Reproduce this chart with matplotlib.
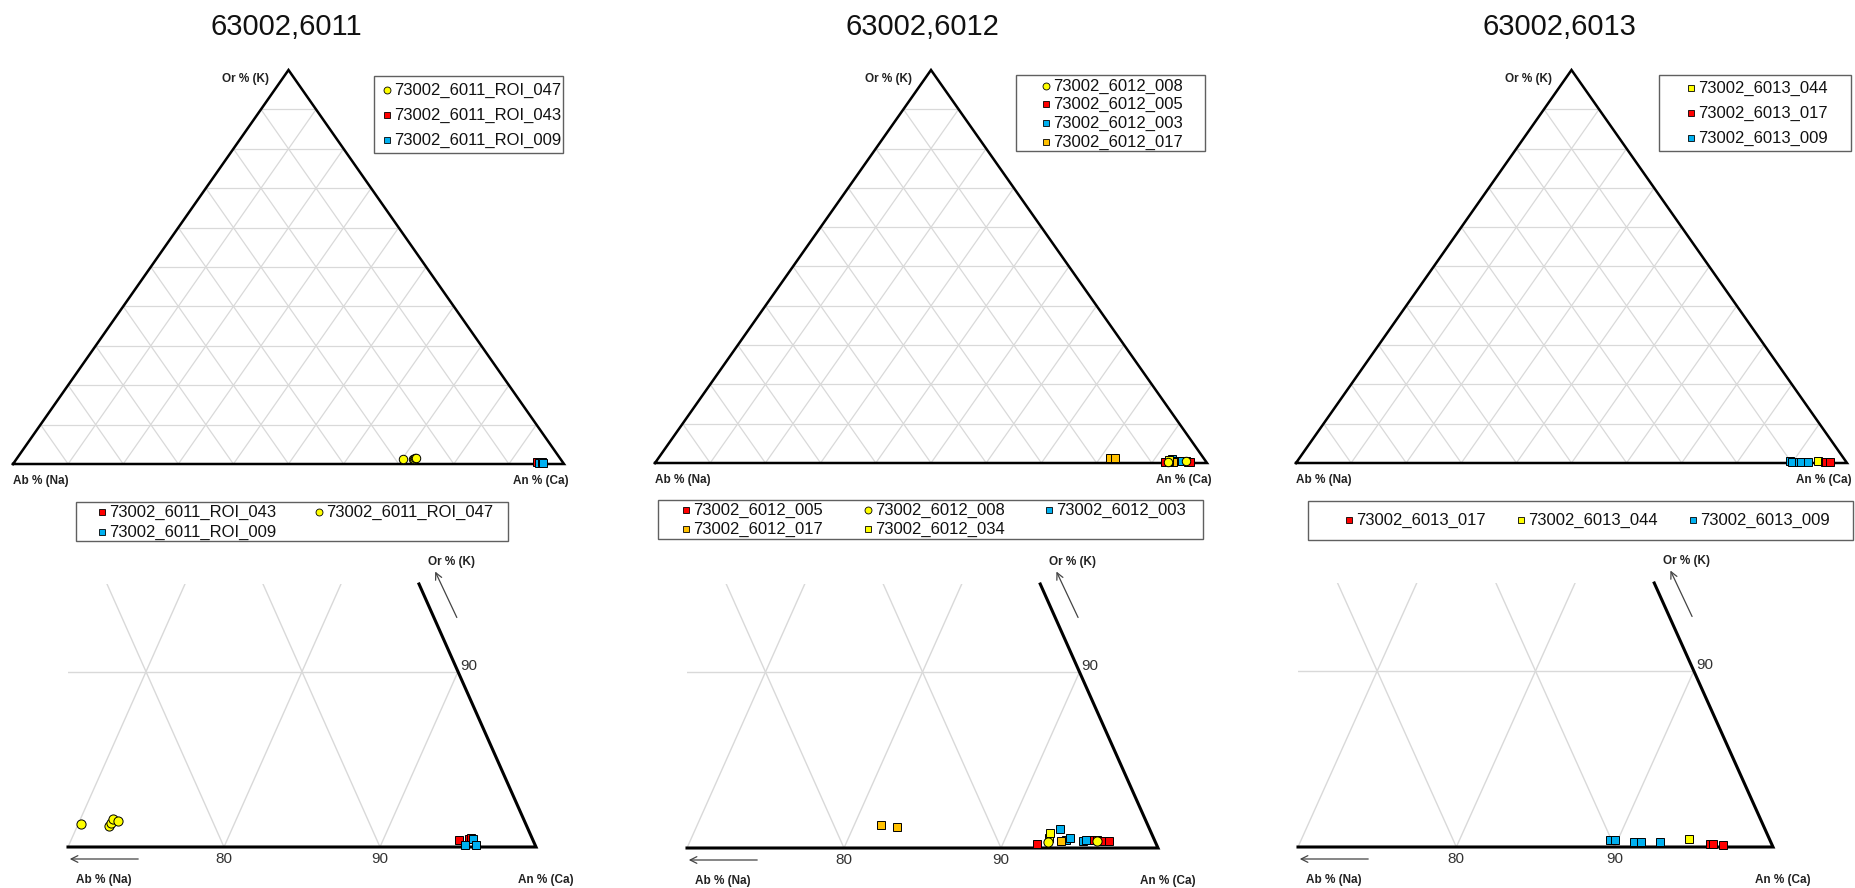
import numpy as np
import matplotlib.pyplot as plt
from matplotlib.lines import Line2D
from matplotlib.patches import Rectangle

plt.rcParams["font.family"] = ["Liberation Sans", "DejaVu Sans"]

W, H = 1856, 888
H3 = np.sqrt(3) / 2

RED = "#ff0000"
YELLOW = "#ffff00"
BLUE = "#00b0f0"
ORANGE = "#ffc000"

titles = ["63002,6011", "63002,6012", "63002,6013"]

# panel 1 (An %, Or %)
p1_names = ["73002_6011_ROI_047", "73002_6011_ROI_043", "73002_6011_ROI_009"]
p1_colors = [YELLOW, RED, BLUE]
p1_markers = ["o", "s", "s"]
p1_an = [[70.2, 72.0, 72.1, 72.1, 72.5], [94.85, 95.5, 95.6], [95.4, 95.7, 96.1]]
p1_or = [[1.31, 1.20, 1.37, 1.57, 1.46], [0.42, 0.47, 0.51], [0.13, 0.47, 0.13]]
p1_top_legend = [0, 1, 2]
p1_bottom_legend = [1, 0, 2]

# panel 2
p2_names = ["73002_6012_005", "73002_6012_003", "73002_6012_017",
            "73002_6012_034", "73002_6012_008"]
p2_colors = [RED, BLUE, ORANGE, YELLOW, YELLOW]
p2_markers = ["s", "s", "s", "s", "o"]
p2_an = [[92.2, 95.4, 95.7, 95.9, 96.3, 96.7],
         [93.2, 93.9, 94.1, 95.0, 95.2],
         [81.7, 82.8, 93.65],
         [92.8, 92.7],
         [92.8, 95.9]]
p2_or = [[0.23, 0.45, 0.45, 0.45, 0.38, 0.38],
         [1.10, 0.45, 0.57, 0.42, 0.45],
         [1.33, 1.21, 0.38],
         [0.57, 0.85],
         [0.34, 0.42]]
p2_top_legend = [4, 0, 1, 2]
p2_bottom_legend = [0, 4, 1, 2, 3]

# panel 3
p3_names = ["73002_6013_009", "73002_6013_044", "73002_6013_017"]
p3_colors = [BLUE, YELLOW, RED]
p3_markers = ["s", "s", "s"]
p3_an = [[89.5, 89.8, 91.1, 91.5, 92.7], [94.45], [95.9, 96.1, 96.8]]
p3_or = [[0.42, 0.38, 0.30, 0.30, 0.27], [0.46], [0.19, 0.19, 0.13]]
p3_top_legend = [1, 2, 0]
p3_bottom_legend = [2, 1, 0]


def cart(an, orr):
    an = np.asarray(an, dtype=float) / 100
    orr = np.asarray(orr, dtype=float) / 100
    return an + orr / 2, orr * H3


def fbox(l, r, top, bottom):
    return [l / W, 1 - bottom / H, (r - l) / W, (bottom - top) / H]


def grid(ax, lw):
    for v in np.arange(0.1, 0.95, 0.1):
        for a, o in [([0, 1 - v], [v, v]), ([v, v], [0, 1 - v]), ([1 - v, 0], [0, 1 - v])]:
            x, y = cart(np.array(a) * 100, np.array(o) * 100)
            ax.plot(x, y, color="#d9d9d9", lw=lw, zorder=1)


def draw_series(ax, an, orr, colors, markers, ms):
    for a, o, c, m in zip(an, orr, colors, markers):
        x, y = cart(a, o)
        ax.plot(x, y, ls="none", marker=m, ms=ms if m == "s" else ms + 0.6,
                mfc=c, mec="black", mew=0.7, clip_on=False, zorder=5)


def draw_legend(fig, box, order, names, colors, markers, cols_x, rows_y):
    l, r, t, b = box
    fig.add_artist(Rectangle((l / W, 1 - b / H), (r - l) / W, (b - t) / H,
                             transform=fig.transFigure, fill=False,
                             ec="#606060", lw=1.0))
    ncol = len(cols_x)
    for k, idx in enumerate(order):
        mx = cols_x[k % ncol]
        my = rows_y[k // ncol]
        fig.add_artist(Line2D([mx / W], [1 - my / H], transform=fig.transFigure,
                              ls="none", marker=markers[idx], ms=5,
                              mfc=colors[idx], mec="black", mew=0.6))
        fig.text((mx + 7) / W, 1 - my / H, names[idx], fontsize=12,
                 va="center", ha="left", color="#111111")


fig = plt.figure(figsize=(W / 100, H / 100), dpi=100)

panels = [
    (p1_names, p1_colors, p1_markers, p1_an, p1_or, p1_top_legend, p1_bottom_legend),
    (p2_names, p2_colors, p2_markers, p2_an, p2_or, p2_top_legend, p2_bottom_legend),
    (p3_names, p3_colors, p3_markers, p3_an, p3_or, p3_top_legend, p3_bottom_legend),
]

top_boxes = [(13, 564, 70, 464), (655, 1207, 70, 463), (1296, 1847, 70, 463)]
bottom_boxes = [(68, 536, 584, 847), (687, 1158, 584, 848), (1298, 1773, 583, 847)]
title_x = [286, 922, 1559]
top_leg_boxes = [(374, 563, 76, 153), (1016, 1205, 75, 151), (1659, 1851, 75, 151)]
top_leg_cols = [[387], [1046], [1691]]
top_leg_rows = [[90, 115, 140], [86, 104.5, 123, 142], [88, 113, 138]]
bot_leg_boxes = [(76, 508, 502, 541), (658, 1203, 500, 539), (1308, 1853, 501, 540)]
bot_leg_cols = [[102, 319], [686, 868, 1049], [1349, 1521, 1693]]
bot_leg_rows = [[512, 532], [510, 529], [520]]

lab = dict(fontsize=8.5, fontweight="bold", color="#222222")

for i, (names, colors, markers, an, orr, tleg, bleg) in enumerate(panels):
    # ---- full triangle
    l, r, apex, base = top_boxes[i]
    ax = fig.add_axes(fbox(l, r, apex, base))
    ax.set_xlim(0, 1)
    ax.set_ylim(0, H3)
    ax.axis("off")
    grid(ax, 0.9)
    ax.plot([0, 1, 0.5, 0], [0, 0, H3, 0], color="black", lw=1.8,
            clip_on=False, zorder=3, solid_joinstyle="miter")
    draw_series(ax, an, orr, colors, markers, 5.5)
    ax.annotate("Or % (K)", (0.5, H3), xytext=(-19, -9), textcoords="offset pixels",
                ha="right", va="center", **lab)
    ax.annotate("Ab % (Na)", (0, 0), xytext=(0, -17), textcoords="offset pixels",
                ha="left", va="center", **lab)
    ax.annotate("An % (Ca)", (1, 0), xytext=(5, -17), textcoords="offset pixels",
                ha="right", va="center", **lab)
    fig.text(title_x[i] / W, 1 - 27 / H, titles[i], fontsize=21,
             ha="center", va="center", color="#111111")

    # ---- zoom near the An corner
    l, r, top, base = bottom_boxes[i]
    bx = fig.add_axes(fbox(l, r, top, base))
    bx.set_xlim(0.70, 1.0)
    bx.set_ylim(0, 0.15 * H3)
    bx.axis("off")
    grid(bx, 1.0)
    ex, ey = cart([100, 85], [0, 15])
    bx.plot([0.70, 1.0, ex[1]], [0, 0, ey[1]], color="black", lw=2.2,
            clip_on=False, zorder=3, solid_joinstyle="miter")
    draw_series(bx, an, orr, colors, markers, 6)
    for t in (80, 90):
        bx.annotate(str(t), (t / 100, 0), xytext=(0, -12), textcoords="offset pixels",
                    ha="center", va="center", fontsize=11, color="#333333")
    ox, oy = cart(90, 10)
    bx.annotate("90", (ox, oy), xytext=(2, 6), textcoords="offset pixels",
                ha="left", va="center", fontsize=11, color="#333333")
    bx.annotate("Ab % (Na)", (0.70, 0), xytext=(36, -33), textcoords="offset pixels",
                ha="center", va="center", **lab)
    bx.annotate("An % (Ca)", (1.0, 0), xytext=(10, -33), textcoords="offset pixels",
                ha="center", va="center", **lab)
    tx = l + (ex[1] - 0.70) / 0.30 * (r - l)
    bx.annotate("Or % (K)", (ex[1], ey[1]), xytext=(9, 22), textcoords="offset pixels",
                ha="left", va="center", **lab)
    arrow = dict(arrowstyle="->", color="#444444", lw=0.9, mutation_scale=12)
    fig.add_artist(plt.Annotation("", xy=(l - 1, H - (base + 12)),
                                  xytext=(l + 73, H - (base + 12)),
                                  xycoords="figure pixels", arrowprops=arrow))
    fig.add_artist(plt.Annotation("", xy=(tx + 15, H - (top - 15)),
                                  xytext=(tx + 39, H - (top + 36)),
                                  xycoords="figure pixels", arrowprops=arrow))

    # ---- legends
    draw_legend(fig, top_leg_boxes[i], tleg, names, colors, markers,
                top_leg_cols[i], top_leg_rows[i])
    draw_legend(fig, bot_leg_boxes[i], bleg, names, colors, markers,
                bot_leg_cols[i], bot_leg_rows[i])

fig.savefig("out.png", dpi=100, facecolor="white")
